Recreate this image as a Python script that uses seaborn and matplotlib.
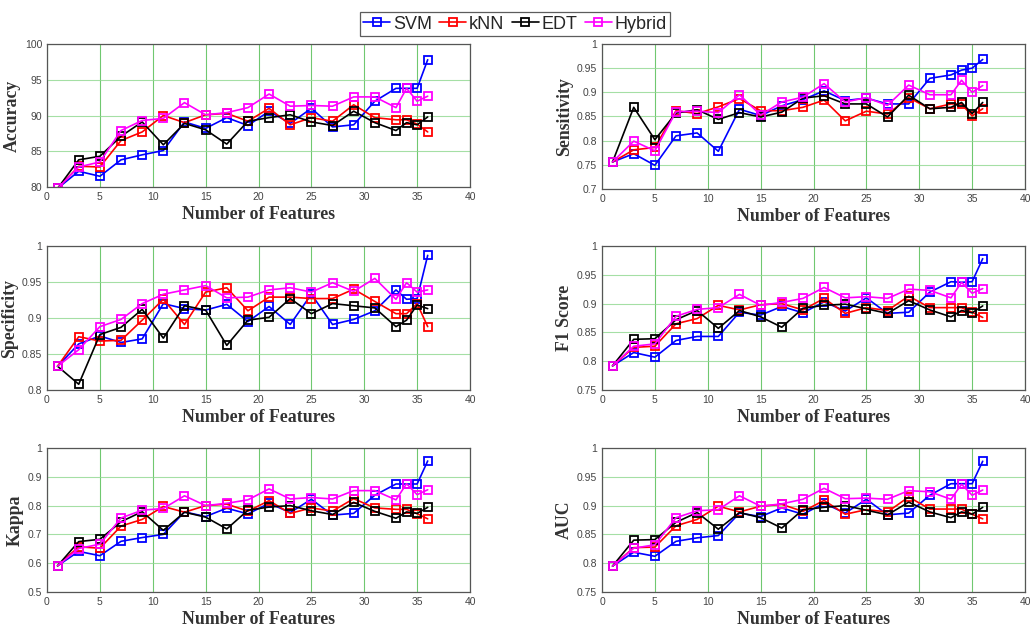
import matplotlib
matplotlib.use("Agg")
import matplotlib.pyplot as plt
import seaborn as sns
import numpy as np
import pandas as pd

features = [1, 3, 5, 7, 9, 11, 13, 15, 17, 19, 21, 23, 25, 27, 29, 31, 33, 34, 35, 36]
models = ["SVM", "kNN", "EDT", "Hybrid"]
colors = ["#0000ff", "#ff0000", "#000000", "#ff00ff"]

acc_svm = [79.8, 82.2, 81.5, 83.8, 84.5, 85.1, 89.1, 88.2, 89.7, 88.6, 90.6, 88.9, 91.0, 88.4, 88.7, 92.0, 93.8, 93.8, 93.8, 97.8]
acc_knn = [79.8, 82.9, 82.8, 86.5, 87.7, 90.0, 89.0, 90.1, 90.3, 89.2, 91.0, 88.7, 89.7, 89.2, 91.5, 89.7, 89.4, 89.4, 88.8, 87.7]
acc_edt = [79.8, 83.8, 84.3, 87.1, 89.1, 85.9, 88.9, 88.0, 86.0, 89.2, 89.7, 90.1, 89.1, 88.6, 90.6, 89.0, 87.9, 89.0, 88.7, 89.8]
acc_hyb = [79.8, 82.8, 83.5, 87.9, 89.3, 89.6, 91.8, 90.1, 90.4, 91.1, 93.0, 91.3, 91.4, 91.3, 92.6, 92.6, 91.1, 93.8, 92.0, 92.7]

sen_svm = [0.756, 0.773, 0.749, 0.810, 0.816, 0.778, 0.865, 0.852, 0.872, 0.885, 0.903, 0.883, 0.888, 0.876, 0.876, 0.929, 0.936, 0.946, 0.950, 0.968]
sen_knn = [0.756, 0.781, 0.786, 0.862, 0.856, 0.870, 0.887, 0.862, 0.862, 0.869, 0.884, 0.841, 0.861, 0.855, 0.889, 0.866, 0.876, 0.876, 0.851, 0.866]
sen_edt = [0.756, 0.869, 0.802, 0.857, 0.864, 0.844, 0.858, 0.849, 0.859, 0.888, 0.893, 0.876, 0.876, 0.849, 0.894, 0.866, 0.869, 0.879, 0.856, 0.879]
sen_hyb = [0.756, 0.799, 0.779, 0.860, 0.861, 0.858, 0.895, 0.853, 0.880, 0.890, 0.918, 0.880, 0.889, 0.873, 0.915, 0.895, 0.895, 0.925, 0.900, 0.914]

spe_svm = [0.833, 0.864, 0.875, 0.866, 0.871, 0.920, 0.913, 0.911, 0.919, 0.895, 0.916, 0.891, 0.933, 0.891, 0.898, 0.910, 0.939, 0.926, 0.927, 0.987]
spe_knn = [0.833, 0.874, 0.868, 0.869, 0.897, 0.926, 0.891, 0.936, 0.942, 0.910, 0.929, 0.929, 0.927, 0.927, 0.940, 0.923, 0.906, 0.906, 0.920, 0.888]
spe_edt = [0.833, 0.808, 0.877, 0.887, 0.912, 0.872, 0.917, 0.911, 0.862, 0.897, 0.901, 0.927, 0.906, 0.920, 0.917, 0.914, 0.888, 0.897, 0.918, 0.913]
spe_hyb = [0.833, 0.856, 0.888, 0.898, 0.920, 0.933, 0.939, 0.945, 0.928, 0.929, 0.939, 0.942, 0.936, 0.949, 0.937, 0.955, 0.926, 0.949, 0.936, 0.939]

f1_svm = [0.792, 0.815, 0.807, 0.836, 0.843, 0.843, 0.885, 0.880, 0.895, 0.884, 0.903, 0.887, 0.910, 0.883, 0.885, 0.920, 0.938, 0.937, 0.938, 0.978]
f1_knn = [0.792, 0.824, 0.826, 0.865, 0.874, 0.897, 0.889, 0.898, 0.900, 0.889, 0.909, 0.883, 0.893, 0.888, 0.913, 0.893, 0.893, 0.893, 0.885, 0.876]
f1_edt = [0.792, 0.838, 0.839, 0.872, 0.888, 0.857, 0.888, 0.877, 0.859, 0.892, 0.897, 0.899, 0.891, 0.883, 0.905, 0.889, 0.877, 0.888, 0.884, 0.896]
f1_hyb = [0.792, 0.826, 0.830, 0.878, 0.890, 0.893, 0.916, 0.897, 0.902, 0.909, 0.928, 0.910, 0.912, 0.909, 0.925, 0.923, 0.910, 0.937, 0.918, 0.926]

kap_svm = [0.591, 0.641, 0.626, 0.676, 0.689, 0.700, 0.778, 0.762, 0.791, 0.771, 0.808, 0.776, 0.822, 0.767, 0.773, 0.836, 0.875, 0.875, 0.875, 0.955]
kap_knn = [0.591, 0.657, 0.652, 0.729, 0.752, 0.797, 0.777, 0.800, 0.805, 0.781, 0.817, 0.773, 0.792, 0.781, 0.824, 0.792, 0.787, 0.787, 0.772, 0.754]
kap_edt = [0.591, 0.675, 0.683, 0.744, 0.779, 0.714, 0.777, 0.760, 0.719, 0.784, 0.795, 0.800, 0.782, 0.769, 0.811, 0.780, 0.756, 0.778, 0.773, 0.794]
kap_hyb = [0.591, 0.651, 0.666, 0.757, 0.784, 0.790, 0.834, 0.800, 0.808, 0.820, 0.858, 0.823, 0.828, 0.823, 0.852, 0.852, 0.820, 0.876, 0.838, 0.855]

auc_svm = [0.795, 0.819, 0.812, 0.838, 0.844, 0.848, 0.887, 0.881, 0.896, 0.885, 0.904, 0.887, 0.911, 0.884, 0.887, 0.918, 0.938, 0.938, 0.938, 0.977]
auc_knn = [0.795, 0.827, 0.828, 0.865, 0.876, 0.899, 0.889, 0.899, 0.902, 0.890, 0.909, 0.885, 0.893, 0.889, 0.915, 0.894, 0.894, 0.894, 0.885, 0.877]
auc_edt = [0.795, 0.840, 0.841, 0.871, 0.888, 0.859, 0.888, 0.879, 0.861, 0.893, 0.897, 0.900, 0.892, 0.884, 0.906, 0.889, 0.879, 0.889, 0.885, 0.897]
auc_hyb = [0.795, 0.826, 0.832, 0.879, 0.891, 0.893, 0.917, 0.899, 0.903, 0.911, 0.930, 0.912, 0.913, 0.911, 0.926, 0.924, 0.911, 0.937, 0.918, 0.927]

panels = [
    ("Accuracy", [acc_svm, acc_knn, acc_edt, acc_hyb], (80, 100), [80, 85, 90, 95, 100], ["80", "85", "90", "95", "100"]),
    ("Sensitivity", [sen_svm, sen_knn, sen_edt, sen_hyb], (0.7, 1.0), [0.7, 0.75, 0.8, 0.85, 0.9, 0.95, 1.0], ["0.7", "0.75", "0.8", "0.85", "0.9", "0.95", "1"]),
    ("Specificity", [spe_svm, spe_knn, spe_edt, spe_hyb], (0.8, 1.0), [0.8, 0.85, 0.9, 0.95, 1.0], ["0.8", "0.85", "0.9", "0.95", "1"]),
    ("F1 Score", [f1_svm, f1_knn, f1_edt, f1_hyb], (0.75, 1.0), [0.75, 0.8, 0.85, 0.9, 0.95, 1.0], ["0.75", "0.8", "0.85", "0.9", "0.95", "1"]),
    ("Kappa", [kap_svm, kap_knn, kap_edt, kap_hyb], (0.5, 1.0), [0.5, 0.6, 0.7, 0.8, 0.9, 1.0], ["0.5", "0.6", "0.7", "0.8", "0.9", "1"]),
    ("AUC", [auc_svm, auc_knn, auc_edt, auc_hyb], (0.75, 1.0), [0.75, 0.8, 0.85, 0.9, 0.95, 1.0], ["0.75", "0.8", "0.85", "0.9", "0.95", "1"]),
]

sns.set_style("white")
plt.rcParams['font.family'] = ['Liberation Sans', 'DejaVu Sans']

fig = plt.figure(figsize=(10.30, 6.32), dpi=100)
W, H = 1030.0, 632.0
# axes boxes in pixels: (left, top, right, bottom)
boxes = [
    (47, 44, 470, 187), (602, 44, 1025, 189),
    (47, 246, 470, 390), (602, 246, 1025, 390),
    (47, 448, 470, 592), (602, 448, 1025, 592),
]

label_font = dict(family="Liberation Serif", fontweight="bold", fontsize=12.8, color="#333333")

handles = None
for (name, series, ylim, yt, ytl), (l, t, r, b) in zip(panels, boxes):
    ax = fig.add_axes([l / W, 1 - b / H, (r - l) / W, (b - t) / H])
    for m, c, vals in zip(models, colors, series):
        df = pd.DataFrame({"Features": features, "Value": vals})
        sns.lineplot(data=df, x="Features", y="Value", ax=ax, color=c, marker="s",
                     markersize=5.6, markerfacecolor="none", markeredgecolor=c,
                     markeredgewidth=1.3, linewidth=1.2, label=m, legend=False)
    ax.set_xlim(0, 40)
    ax.set_ylim(*ylim)
    ax.set_xticks(range(0, 41, 5))
    ax.set_yticks(yt)
    ax.set_yticklabels(ytl)
    ax.tick_params(axis="both", labelsize=7.5, labelcolor="#444444", length=2, direction="in", color="#555555")
    ax.xaxis.grid(True, color="#4cbb4c", linewidth=0.8, alpha=0.8)
    ax.yaxis.grid(True, color="#8fd88f", linewidth=0.8, alpha=0.8)
    ax.set_axisbelow(True)
    for s in ax.spines.values():
        s.set_color("#555555")
        s.set_linewidth(0.9)
    ax.set_xlabel("Number of Features", **label_font)
    ax.set_ylabel(name, **label_font)
    ax.xaxis.labelpad = 3
    ax.yaxis.labelpad = 3
    if handles is None:
        handles = ax.get_lines()[:4]

leg = fig.legend(handles, models, loc="upper center", bbox_to_anchor=(0.5, 0.995), ncol=4,
                 frameon=True, fancybox=False, edgecolor="#333333", fontsize=13,
                 handlelength=1.5, handletextpad=0.15, columnspacing=0.4, borderpad=0.2)
leg.get_frame().set_linewidth(0.9)

fig.savefig("out.png", dpi=100)
